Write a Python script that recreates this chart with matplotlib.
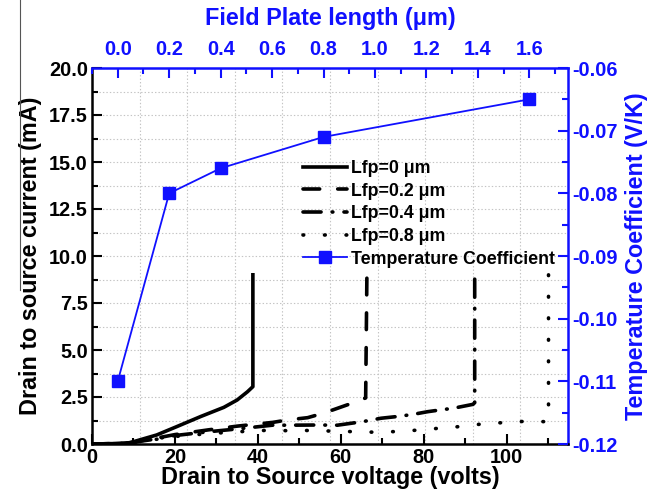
import numpy as np
import matplotlib

matplotlib.use("Agg")
import matplotlib.pyplot as plt
from matplotlib.lines import Line2D
from matplotlib.ticker import MultipleLocator, FormatStrFormatter

BLUE = "#1010ff"

# drain current vs drain-source voltage for each field plate length
VDS_0 = [0, 5, 9.2, 15.6, 20.5, 26.2, 31.8, 35.0, 37.5, 38.8, 38.8]
IDS_0 = [0, 0.02, 0.07, 0.48, 0.93, 1.46, 1.95, 2.34, 2.78, 3.05, 9.0]

VDS_02 = [0, 8, 14, 20, 28, 35, 43.6, 47.2, 52, 56, 60.5, 64.4, 66.0, 66.3]
IDS_02 = [0, 0.03, 0.25, 0.5, 0.75, 0.95, 1.15, 1.28, 1.4, 1.65, 2.0, 2.3, 2.45, 9.0]

VDS_04 = [0, 8, 14, 20, 28, 35, 43.5, 47, 54.4, 59.2, 65.3, 69.7, 73.1, 77, 81, 83.9, 87.1, 91.9, 92.3, 92.3]
IDS_04 = [0, 0.03, 0.22, 0.45, 0.65, 0.8, 1.0, 1.0, 1.01, 1.0, 1.19, 1.37, 1.45, 1.56, 1.72, 1.81, 1.9, 2.11, 2.2, 9.0]

VDS_08 = [0, 8, 14, 20, 28, 35, 41.5, 46.7, 51.6, 57.2, 62.5, 67.7, 73, 78, 83.3, 88.3, 93.5, 98.6, 103.9, 109.1, 110.1, 110.1]
IDS_08 = [0, 0.02, 0.2, 0.4, 0.55, 0.65, 0.72, 0.71, 0.72, 0.69, 0.66, 0.63, 0.66, 0.73, 0.83, 0.92, 1.05, 1.13, 1.2, 1.19, 1.25, 9.0]

# temperature coefficient vs field plate length
FP_LENGTH = [0.0, 0.2, 0.4, 0.8, 1.6]
TEMP_COEFF = [-0.110, -0.080, -0.076, -0.071, -0.065]

plt.rcParams.update({
    "font.family": ["Liberation Sans", "DejaVu Sans"],
    "font.weight": "bold",
    "axes.labelweight": "bold",
    "lines.scale_dashes": False,
})

TICK_FS = 14.3
LABEL_FS = 16.8

fig = plt.figure(figsize=(6.49, 5.04), dpi=100)
rect = [92 / 649, 1 - 444 / 504, 476 / 649, 376 / 504]
ax = fig.add_axes(rect)
axt = fig.add_axes(rect, frameon=False)

# grid
ax.yaxis.set_minor_locator(MultipleLocator(1.25))
ax.grid(which="both", axis="y", color="#c4c4c4", linestyle=(0, (1, 1.5)), linewidth=0.8)
for f in np.arange(1, 10) / 10:
    ax.plot([f, f], [0, 1], transform=ax.transAxes, color="#c4c4c4",
            linestyle=(0, (1, 1.5)), linewidth=0.8, zorder=0.5)

lw = 2.6
l0, = ax.plot(VDS_0, IDS_0, color="black", lw=lw, label="Lfp=0 \u03bcm")
l1, = ax.plot(VDS_02, IDS_02, color="black", lw=lw, linestyle=(0, (12, 13)),
              dash_capstyle="round", label="Lfp=0.2 \u03bcm")
l2, = ax.plot(VDS_04, IDS_04, color="black", lw=lw, linestyle=(0, (13, 8, 0.5, 8)),
              dash_capstyle="round", label="Lfp=0.4 \u03bcm")
l3, = ax.plot(VDS_08, IDS_08, color="black", lw=lw, linestyle=(0, (0.5, 15)),
              dash_capstyle="round", label="Lfp=0.8 \u03bcm")

ax.set_xlim(0, 114.8)
ax.set_ylim(0, 20)
ax.xaxis.set_major_locator(MultipleLocator(20))
ax.xaxis.set_minor_locator(MultipleLocator(10))
ax.yaxis.set_major_locator(MultipleLocator(2.5))
ax.yaxis.set_major_formatter(FormatStrFormatter("%.1f"))
ax.tick_params(which="both", direction="in", top=False, right=False, width=1.5,
               labelsize=TICK_FS, colors="black", pad=3)
ax.tick_params(which="major", length=7)
ax.tick_params(which="minor", length=4)
for side in ["left", "bottom"]:
    ax.spines[side].set_linewidth(1.8)
for side in ["top", "right"]:
    ax.spines[side].set_linewidth(1.8)
    ax.spines[side].set_color(BLUE)
ax.set_xlabel("Drain to Source voltage (volts)", fontsize=LABEL_FS, labelpad=-1)
ax.set_ylabel("Drain to source current (mA)", fontsize=LABEL_FS, labelpad=5)

tc, = axt.plot(FP_LENGTH, TEMP_COEFF, color=BLUE, lw=1.3, marker="s", markersize=8,
               label="Temperature Coefficient")
axt.set_xlim(-0.1, 1.75)
axt.set_ylim(-0.12, -0.06)
axt.xaxis.tick_top()
axt.xaxis.set_label_position("top")
axt.yaxis.tick_right()
axt.yaxis.set_label_position("right")
axt.xaxis.set_major_locator(MultipleLocator(0.2))
axt.xaxis.set_minor_locator(MultipleLocator(0.1))
axt.xaxis.set_major_formatter(FormatStrFormatter("%.1f"))
axt.yaxis.set_major_locator(MultipleLocator(0.01))
axt.yaxis.set_minor_locator(MultipleLocator(0.005))
axt.yaxis.set_major_formatter(FormatStrFormatter("%.2f"))
axt.tick_params(which="both", direction="in", width=1.5, labelsize=TICK_FS,
                colors=BLUE, bottom=False, left=False, top=True, right=True, pad=3)
axt.tick_params(axis="x", which="both", pad=6.5)
axt.tick_params(which="major", length=7)
axt.tick_params(which="minor", length=4)
axt.set_xlabel("Field Plate length (\u03bcm)", fontsize=LABEL_FS, color=BLUE, labelpad=11)
axt.set_ylabel("Temperature Coefficient (V/K)", fontsize=LABEL_FS, color=BLUE, labelpad=5)

axt.legend(handles=[l0, l1, l2, l3, tc], loc="upper left", bbox_to_anchor=(0.409, 0.798),
           frameon=False, fontsize=12.8, handlelength=2.5, handletextpad=0.2,
           labelspacing=0.32, borderpad=0.4)

# thin stray line at the left edge of the source image
fig.add_artist(Line2D([20 / 649, 20 / 649], [1, 1 - 290 / 504], color="#555555", lw=0.8))

fig.savefig("out.png", dpi=100)
